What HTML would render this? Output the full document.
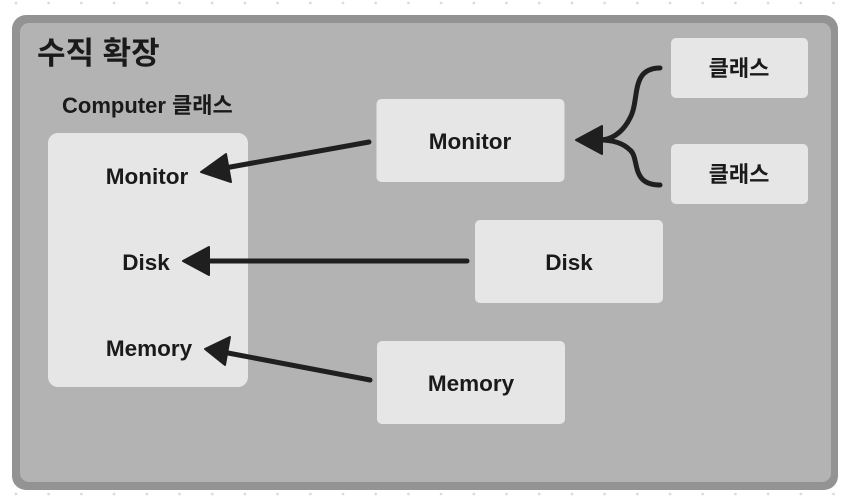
<!DOCTYPE html>
<html><head><meta charset="utf-8"><style>
html,body{margin:0;padding:0;background:#fff;}
svg{display:block;}
text{font-family:"Liberation Sans","Noto Sans CJK KR",sans-serif;font-weight:bold;fill:#1a1a1a;}
</style></head><body>
<svg width="849" height="500" viewBox="0 0 849 500" xmlns="http://www.w3.org/2000/svg">
<rect x="0" y="0" width="849" height="500" fill="#fff"/>
<g fill="#dcdcdc">
<circle cx="16" cy="3" r="1.4"/><circle cx="48.7" cy="3" r="1.4"/><circle cx="81.4" cy="3" r="1.4"/><circle cx="114.1" cy="3" r="1.4"/><circle cx="146.8" cy="3" r="1.4"/><circle cx="179.5" cy="3" r="1.4"/><circle cx="212.2" cy="3" r="1.4"/><circle cx="244.9" cy="3" r="1.4"/><circle cx="277.6" cy="3" r="1.4"/><circle cx="310.3" cy="3" r="1.4"/><circle cx="343" cy="3" r="1.4"/><circle cx="375.7" cy="3" r="1.4"/><circle cx="408.4" cy="3" r="1.4"/><circle cx="441.1" cy="3" r="1.4"/><circle cx="473.8" cy="3" r="1.4"/><circle cx="506.5" cy="3" r="1.4"/><circle cx="539.2" cy="3" r="1.4"/><circle cx="571.9" cy="3" r="1.4"/><circle cx="604.6" cy="3" r="1.4"/><circle cx="637.3" cy="3" r="1.4"/><circle cx="670" cy="3" r="1.4"/><circle cx="702.7" cy="3" r="1.4"/><circle cx="735.4" cy="3" r="1.4"/><circle cx="768.1" cy="3" r="1.4"/><circle cx="800.8" cy="3" r="1.4"/><circle cx="833.5" cy="3" r="1.4"/>
<circle cx="16" cy="494" r="1.4"/><circle cx="48.7" cy="494" r="1.4"/><circle cx="81.4" cy="494" r="1.4"/><circle cx="114.1" cy="494" r="1.4"/><circle cx="146.8" cy="494" r="1.4"/><circle cx="179.5" cy="494" r="1.4"/><circle cx="212.2" cy="494" r="1.4"/><circle cx="244.9" cy="494" r="1.4"/><circle cx="277.6" cy="494" r="1.4"/><circle cx="310.3" cy="494" r="1.4"/><circle cx="343" cy="494" r="1.4"/><circle cx="375.7" cy="494" r="1.4"/><circle cx="408.4" cy="494" r="1.4"/><circle cx="441.1" cy="494" r="1.4"/><circle cx="473.8" cy="494" r="1.4"/><circle cx="506.5" cy="494" r="1.4"/><circle cx="539.2" cy="494" r="1.4"/><circle cx="571.9" cy="494" r="1.4"/><circle cx="604.6" cy="494" r="1.4"/><circle cx="637.3" cy="494" r="1.4"/><circle cx="670" cy="494" r="1.4"/><circle cx="702.7" cy="494" r="1.4"/><circle cx="735.4" cy="494" r="1.4"/><circle cx="768.1" cy="494" r="1.4"/><circle cx="800.8" cy="494" r="1.4"/><circle cx="833.5" cy="494" r="1.4"/>
</g>
<rect x="12" y="15" width="826" height="475" rx="14" fill="#939393"/>
<rect x="20" y="23" width="811" height="459" rx="9" fill="#b3b3b3"/>
<text x="37" y="64" font-size="31">수직 확장</text>
<text x="62" y="113" font-size="22">Computer 클래스</text>
<rect x="48" y="133" width="200" height="254" rx="10" fill="#e6e6e6"/>
<text x="147" y="184" font-size="22.5" text-anchor="middle">Monitor</text>
<text x="146" y="270" font-size="22.5" text-anchor="middle">Disk</text>
<text x="149" y="356" font-size="22.5" text-anchor="middle">Memory</text>
<rect x="376.5" y="99" width="188" height="83" rx="5" fill="#e6e6e6"/>
<text x="470" y="149" font-size="22.5" text-anchor="middle">Monitor</text>
<rect x="475" y="220" width="188" height="83" rx="5" fill="#e6e6e6"/>
<text x="569" y="270" font-size="22.5" text-anchor="middle">Disk</text>
<rect x="377" y="341" width="188" height="83" rx="5" fill="#e6e6e6"/>
<text x="471" y="391" font-size="22.5" text-anchor="middle">Memory</text>
<rect x="671" y="38" width="137" height="60" rx="5" fill="#e6e6e6"/>
<text x="739" y="76" font-size="22" text-anchor="middle">클래스</text>
<rect x="671" y="144" width="137" height="60" rx="5" fill="#e6e6e6"/>
<text x="739" y="182" font-size="22" text-anchor="middle">클래스</text>
<g stroke="#1f1f1f" stroke-width="5" fill="none" stroke-linecap="round">
<line x1="369" y1="142" x2="225" y2="168"/>
<line x1="467" y1="261" x2="205" y2="261"/>
<line x1="370" y1="380" x2="228" y2="353"/>
<path d="M660 68 C630 68 640 100 630 118 C622 134 610 140 600 140"/>
<path d="M660 185 C630 185 640 158 630 150 C622 142 610 140 600 140"/>
</g>
<g fill="#1f1f1f" stroke="#1f1f1f" stroke-width="2" stroke-linejoin="round">
<polygon points="201,172 226,154 231,182"/>
<polygon points="183,261 209,247 209,275"/>
<polygon points="205,349 230,337 225,365"/>
<polygon points="576,140 602,126 602,154"/>
</g>
</svg>
</body></html>
